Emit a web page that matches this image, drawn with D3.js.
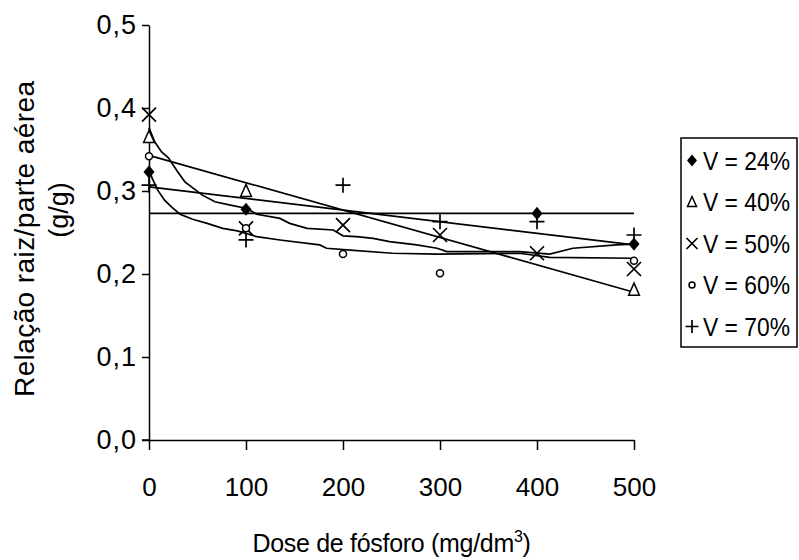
<!DOCTYPE html>
<html>
<head>
<meta charset="utf-8">
<script src="https://cdn.jsdelivr.net/npm/d3@7"></script>
<style>
  html, body { margin: 0; padding: 0; background: #fff; }
  svg { display: block; font-family: "Liberation Sans", Arial, sans-serif; }
</style>
</head>
<body>
<svg id="chart" width="799" height="560"></svg>
<script>
// ---- data ----
const doses = [0, 100, 200, 300, 400, 500];
const v24 = [0.323, 0.278, null, null, 0.273, 0.236];
const v40 = [0.365, 0.300, null, null, null, 0.181];
const v50 = [0.392, 0.255, 0.259, 0.247, 0.225, 0.206];
const v60 = [0.342, 0.255, 0.224, 0.201, null, 0.216];
const v70 = [0.307, 0.241, 0.307, 0.263, 0.263, 0.247];

const seriesNames = ["V = 24%", "V = 40%", "V = 50%", "V = 60%", "V = 70%"];
const yTicks = [0, 0.1, 0.2, 0.3, 0.4, 0.5];
const xTicks = [0, 100, 200, 300, 400, 500];

// fitted lines
const trendA = [[0, 0.343], [500, 0.178]];
const trendB = [[0, 0.305], [500, 0.235]];
const trendH = [[0, 0.273], [500, 0.273]];
// fitted curves
const curveUpper = [[0,0.376],[6,0.359],[13,0.347],[20,0.340],[29,0.324],[37,0.311],[55,0.295],[68,0.287],[84,0.283],[101,0.279],[111,0.272],[135,0.267],[145,0.261],[163,0.255],[190,0.253],[200,0.246],[214,0.245],[231,0.243],[248,0.239],[276,0.235],[297,0.231],[307,0.227],[382,0.227],[413,0.224],[437,0.231],[482,0.235],[499,0.236]];
const curveLower = [[0,0.328],[3,0.316],[9,0.301],[16,0.289],[24,0.280],[32,0.272],[45,0.266],[60,0.261],[76,0.255],[91,0.252],[111,0.245],[135,0.241],[176,0.235],[183,0.231],[204,0.229],[251,0.225],[297,0.224],[382,0.225],[413,0.220],[499,0.219]];

// ---- layout ----
const FONT = '"Liberation Sans", Arial, sans-serif';
const svg = d3.select("#chart");
const x = d3.scaleLinear().domain([0, 500]).range([149, 634]);
const y = d3.scaleLinear().domain([0, 0.5]).range([440, 25]);
const fmtY = v => d3.format(".1f")(v).replace(".", ",");

// axes
const yAxis = d3.axisLeft(y).tickValues(yTicks).tickFormat(fmtY).tickSize(7).tickSizeOuter(0).tickPadding(5);
const gy = svg.append("g").attr("transform", `translate(${x(0)},0)`).call(yAxis);
const xAxis = d3.axisBottom(x).tickValues(xTicks).tickFormat(d3.format("d")).tickSize(10).tickSizeOuter(0).tickPadding(28);
const gx = svg.append("g").attr("transform", `translate(0,${y(0)})`).call(xAxis);
[gx, gy].forEach(g => {
  g.select(".domain").attr("stroke", "#000").attr("stroke-width", 1.5);
  g.selectAll(".tick line").attr("stroke", "#000").attr("stroke-width", 1.5);
  g.selectAll(".tick text").attr("fill", "#000").style("font-size", "26px").style("font-family", FONT);
});
gy.selectAll(".tick text").style("font-size", "27px").style("letter-spacing", "1px");
// extend x axis domain left under tick
svg.append("line").attr("x1", x(0) - 7).attr("x2", x(0)).attr("y1", y(0)).attr("y2", y(0)).attr("stroke", "#000").attr("stroke-width", 1.5);

// axis titles
svg.append("text").attr("x", x(250)).attr("y", 552).attr("text-anchor", "middle")
  .style("font-size", "25px").style("letter-spacing", "-0.3px").attr("fill", "#000")
  .call(t => { t.append("tspan").text("Dose de fósforo (mg/dm"); t.append("tspan").text("3").attr("dy", -10).style("font-size", "16px"); t.append("tspan").text(")").attr("dy", 10); });
svg.append("text").attr("transform", "translate(34,239) rotate(-90)").attr("text-anchor", "middle")
  .style("font-size", "28px").attr("fill", "#000").attr("textLength", 316).attr("lengthAdjust", "spacing").text("Relação raiz/parte aérea");
svg.append("text").attr("transform", "translate(68,210) rotate(-90)").attr("text-anchor", "middle")
  .style("font-size", "27px").attr("fill", "#000").text("(g/g)");

// trend lines and curves
const line = d3.line().x(d => x(d[0])).y(d => y(d[1]));
const plot = svg.append("g");
[trendH, trendA, trendB].forEach(d => plot.append("path").attr("d", line(d)).attr("fill", "none").attr("stroke", "#000").attr("stroke-width", 1.7));
[curveUpper, curveLower].forEach(d => plot.append("path").attr("d", line(d)).attr("fill", "none").attr("stroke", "#000").attr("stroke-width", 1.7));

// markers
function drawMarker(g, type, cx, cy, s) {
  if (type === 0) { // filled diamond
    g.append("path").attr("d", `M${cx},${cy - s * 0.6}L${cx + s * 0.5},${cy}L${cx},${cy + s * 0.6}L${cx - s * 0.5},${cy}Z`).attr("fill", "#000");
  } else if (type === 1) { // open triangle
    g.append("path").attr("d", `M${cx},${cy - s * 0.55}L${cx + s * 0.45},${cy + s * 0.45}L${cx - s * 0.45},${cy + s * 0.45}Z`).attr("fill", "#fff").attr("stroke", "#000").attr("stroke-width", 1.5);
  } else if (type === 2) { // x
    g.append("path").attr("d", `M${cx - s / 2},${cy - s / 2}L${cx + s / 2},${cy + s / 2}M${cx + s / 2},${cy - s / 2}L${cx - s / 2},${cy + s / 2}`).attr("stroke", "#000").attr("stroke-width", 1.7);
  } else if (type === 3) { // open circle
    g.append("circle").attr("cx", cx).attr("cy", cy).attr("r", s / 2).attr("fill", "#fff").attr("stroke", "#000").attr("stroke-width", 1.5);
  } else { // plus
    g.append("path").attr("d", `M${cx - s / 2},${cy}L${cx + s / 2},${cy}M${cx},${cy - s / 2}L${cx},${cy + s / 2}`).attr("stroke", "#000").attr("stroke-width", 1.7);
  }
}
const allSeries = [v24, v40, v50, v60, v70];
const markerSize = [11, 12, 14, 7, 15];
const mg = svg.append("g");
allSeries.forEach((vals, si) => {
  vals.forEach((v, i) => {
    if (v === null) return;
    drawMarker(mg, si, x(doses[i]), y(v), markerSize[si]);
  });
});

// legend
const lg = svg.append("g");
lg.append("rect").attr("x", 681).attr("y", 138).attr("width", 116).attr("height", 209).attr("fill", "#fff").attr("stroke", "#000").attr("stroke-width", 1.5);
const legendSize = [10, 10, 11, 6, 13];
seriesNames.forEach((n, i) => {
  const cy = 160.5 + i * 41.5;
  drawMarker(lg, i, 692, cy, legendSize[i]);
  lg.append("text").attr("x", 703).attr("y", cy + 9).style("font-size", "25px").attr("fill", "#000")
    .attr("textLength", 87).attr("lengthAdjust", "spacingAndGlyphs").text(n);
});
</script>
</body>
</html>
